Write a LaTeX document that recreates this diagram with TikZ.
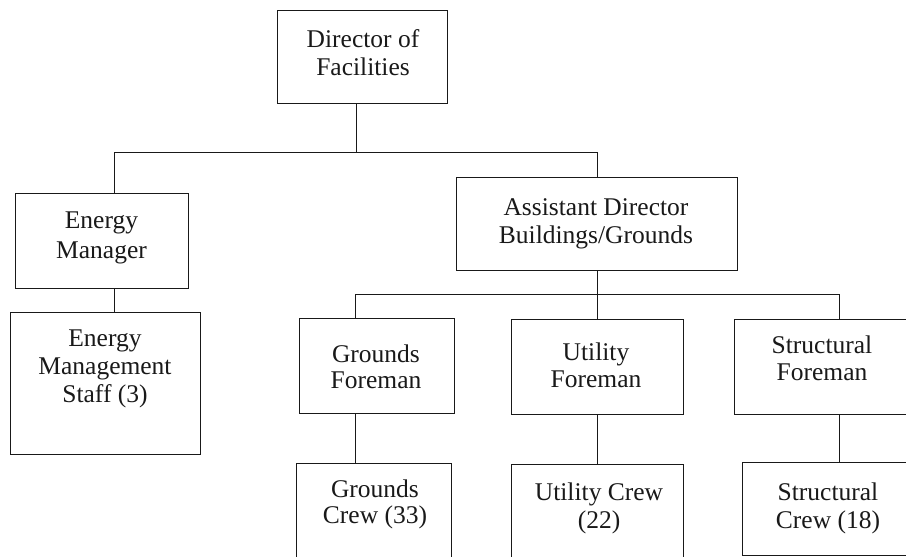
\documentclass[tikz,border=0pt]{standalone}
\usepackage{fontspec}
\setmainfont{Liberation Serif}
\definecolor{ink}{gray}{0.1}

% \orgbox{name}{x1}{y1}{x2}{y2}: an empty framed box spanning the given corners
\newcommand\orgbox[5]{%
  \pgfmathsetmacro\obW{#4-#2}\pgfmathsetmacro\obH{#5-#3}%
  \pgfmathsetmacro\obX{(#2+#4)/2}\pgfmathsetmacro\obY{(#3+#5)/2}%
  \node[box, minimum width=\obW pt, minimum height=\obH pt] (#1) at (\obX,\obY) {};}

\begin{document}
\begin{tikzpicture}[x=1pt,y=-1pt,
  box/.style={draw=ink, line width=1pt, rectangle, inner sep=0pt},
  boxtext/.style={anchor=base, align=center, inner sep=0pt, text=ink,
                  font=\fontsize{25.5}{28}\selectfont},
  wire/.style={draw=ink, line width=1pt}]
\useasboundingbox (0,0) rectangle (906,557);
\clip (0,0) rectangle (906,557);

% boxes
\orgbox{dir}{277}{10}{447}{103}
\orgbox{em}{15}{193}{188}{288}
\orgbox{staff}{10}{312}{200}{454}
\orgbox{ad}{456}{177}{737}{270}
\orgbox{gf}{299}{318}{454}{413}
\orgbox{uf}{511}{319}{683}{414}
\orgbox{sf}{734}{319}{912}{414}
\orgbox{gc}{296}{463}{451}{575}
\orgbox{uc}{511}{464}{683}{575}
\orgbox{sc}{742}{462}{915}{555}

% box texts (placed by the baseline of their last line)
\node[boxtext] (dir-t) at (363,75) {Director of\\Facilities};
\node[boxtext, font=\fontsize{25.5}{30}\selectfont] (em-t) at (101.5,258) {Energy\\Manager};
\node[boxtext] (staff-t) at (105,402) {Energy\\Management\\Staff (3)};
\node[boxtext] (ad-t) at (596,243) {Assistant Director\\Buildings/Grounds};
\node[boxtext, font=\fontsize{25.5}{26}\selectfont] (gf-t) at (376,388) {Grounds\\Foreman};
\node[boxtext, font=\fontsize{25.5}{27}\selectfont] (uf-t) at (596,387) {Utility\\Foreman};
\node[boxtext, font=\fontsize{25.5}{27}\selectfont] (sf-t) at (822,380) {Structural\\Foreman};
\node[boxtext, font=\fontsize{25.5}{26}\selectfont] (gc-t) at (375,523) {Grounds\\Crew (33)};
\node[boxtext] (uc-t) at (599,528) {Utility Crew\\(22)};
\node[boxtext] (sc-t) at (828,528) {Structural\\Crew (18)};

% junction points of the connector lines
\coordinate (top) at (356,152);
\coordinate (topL) at (114,152);
\coordinate (topR) at (597,152);
\coordinate (midL) at (355,294.5);
\coordinate (midC) at (597,294.5);
\coordinate (midR) at (839,294.5);

% connectors
\draw[wire] (dir.south -| top) -- (top);
\draw[wire] (em.north -| topL) -- (topL) -- (topR) -- (ad.north -| topR);
\draw[wire] (em.south -| topL) -- (staff.north -| topL);
\draw[wire] (ad.south -| midC) -- (midC);
\draw[wire] (gf.north -| midL) -- (midL) -- (midR) -- (sf.north -| midR);
\draw[wire] (midC) -- (uf.north -| midC);
\draw[wire] (gf.south -| midL) -- (gc.north -| midL);
\draw[wire] (uf.south -| midC) -- (uc.north -| midC);
\draw[wire] (sf.south -| midR) -- (sc.north -| midR);
\end{tikzpicture}
\end{document}
